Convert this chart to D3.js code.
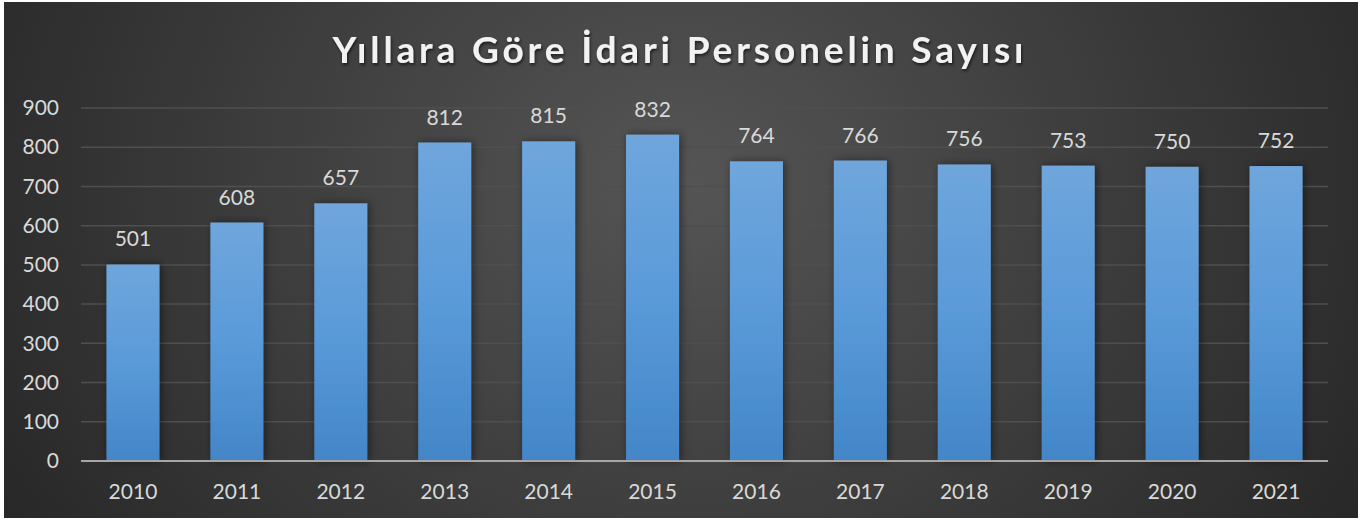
<!DOCTYPE html>
<html>
<head>
<meta charset="utf-8">
<script src="https://cdn.jsdelivr.net/npm/d3@7"></script>
<style>
  html, body { margin: 0; padding: 0; background: #fff; }
  svg { display: block; }
</style>
</head>
<body>
<div id="chart"></div>
<script>
// chart values
const years = ["2010", "2011", "2012", "2013", "2014", "2015", "2016", "2017", "2018", "2019", "2020", "2021"];
const counts = [501, 608, 657, 812, 815, 832, 764, 766, 756, 753, 750, 752];
const yTicks = [0, 100, 200, 300, 400, 500, 600, 700, 800, 900];
const title = "Yıllara Göre İdari Personelin Sayısı";

const W = 1366, H = 522;
const margin = { left: 81, right: 38, top: 108, bottom: 61 };
const font = "Lato, 'Open Sans', sans-serif";

const svg = d3.select("#chart").append("svg")
    .attr("width", W)
    .attr("height", H);

const defs = svg.append("defs");

// background: dark with a lighter spot near the middle
const bg = defs.append("radialGradient")
    .attr("id", "bg")
    .attr("cx", "50%").attr("cy", "35%").attr("r", "60%")
    .attr("gradientTransform", "translate(0.5,0.35) scale(1,2.2) translate(-0.5,-0.35)");
bg.append("stop").attr("offset", "0%").attr("stop-color", "#555555");
bg.append("stop").attr("offset", "100%").attr("stop-color", "#262626");

const barGrad = defs.append("linearGradient")
    .attr("id", "barGrad")
    .attr("x1", 0).attr("y1", 0).attr("x2", 0).attr("y2", 1);
barGrad.append("stop").attr("offset", "0%").attr("stop-color", "#6fa6dc");
barGrad.append("stop").attr("offset", "50%").attr("stop-color", "#5a9ad9");
barGrad.append("stop").attr("offset", "100%").attr("stop-color", "#4386c8");

const shadow = defs.append("filter")
    .attr("id", "shadow")
    .attr("x", "-30%").attr("y", "-10%").attr("width", "160%").attr("height", "120%");
shadow.append("feDropShadow")
    .attr("dx", 2).attr("dy", 0).attr("stdDeviation", 4)
    .attr("flood-color", "#000").attr("flood-opacity", 0.45);

const titleShadow = defs.append("filter").attr("id", "tshadow");
titleShadow.append("feDropShadow")
    .attr("dx", 1).attr("dy", 2).attr("stdDeviation", 1.5)
    .attr("flood-color", "#000").attr("flood-opacity", 0.6);

svg.append("rect")
    .attr("x", 4).attr("y", 2)
    .attr("width", 1354).attr("height", 516)
    .attr("fill", "url(#bg)");

const x = d3.scaleBand()
    .domain(years)
    .range([margin.left, W - margin.right])
    .paddingInner(0.49)
    .paddingOuter(0.245);

const y = d3.scaleLinear()
    .domain([0, 900])
    .range([H - margin.bottom, margin.top]);

// gridlines
svg.append("g")
    .selectAll("line")
    .data(yTicks.filter(d => d > 0))
    .join("line")
    .attr("x1", margin.left)
    .attr("x2", W - margin.right)
    .attr("y1", d => y(d))
    .attr("y2", d => y(d))
    .attr("stroke", "#4f4f4f")
    .attr("stroke-width", 1.5);

// y axis labels
const yAxis = svg.append("g")
    .attr("transform", `translate(${margin.left - 22},0)`)
    .call(d3.axisLeft(y).tickValues(yTicks).tickSize(0).tickPadding(0));
yAxis.select(".domain").remove();
yAxis.selectAll("text")
    .attr("fill", "#d9d9d9")
    .style("font-family", font)
    .style("font-size", "21px");

// bars
svg.append("g")
    .selectAll("rect")
    .data(counts)
    .join("rect")
    .attr("x", (d, i) => x(years[i]))
    .attr("y", d => y(d))
    .attr("width", x.bandwidth())
    .attr("height", d => y(0) - y(d))
    .attr("fill", "url(#barGrad)")
    .attr("filter", "url(#shadow)");

// value labels
svg.append("g")
    .selectAll("text")
    .data(counts)
    .join("text")
    .attr("x", (d, i) => x(years[i]) + x.bandwidth() / 2)
    .attr("y", d => y(d) - 18)
    .attr("text-anchor", "middle")
    .attr("fill", "#d9d9d9")
    .style("font-family", font)
    .style("font-size", "21px")
    .text(d => d);

// baseline
svg.append("line")
    .attr("x1", margin.left)
    .attr("x2", W - margin.right)
    .attr("y1", y(0))
    .attr("y2", y(0))
    .attr("stroke", "#a6a6a6")
    .attr("stroke-width", 2);

// x axis labels
const xAxis = svg.append("g")
    .attr("transform", `translate(0,${y(0) + 23})`)
    .call(d3.axisBottom(x).tickSize(0).tickPadding(0));
xAxis.select(".domain").remove();
xAxis.selectAll("text")
    .attr("fill", "#d9d9d9")
    .style("font-family", font)
    .style("font-size", "21px");

// title
svg.append("text")
    .attr("x", 678)
    .attr("y", 63)
    .attr("text-anchor", "middle")
    .attr("fill", "#f2f2f2")
    .attr("filter", "url(#tshadow)")
    .attr("textLength", 691)
    .attr("lengthAdjust", "spacing")
    .style("font-family", font)
    .style("font-weight", "bold")
    .style("font-size", "37px")
    .text(title);
</script>
</body>
</html>
